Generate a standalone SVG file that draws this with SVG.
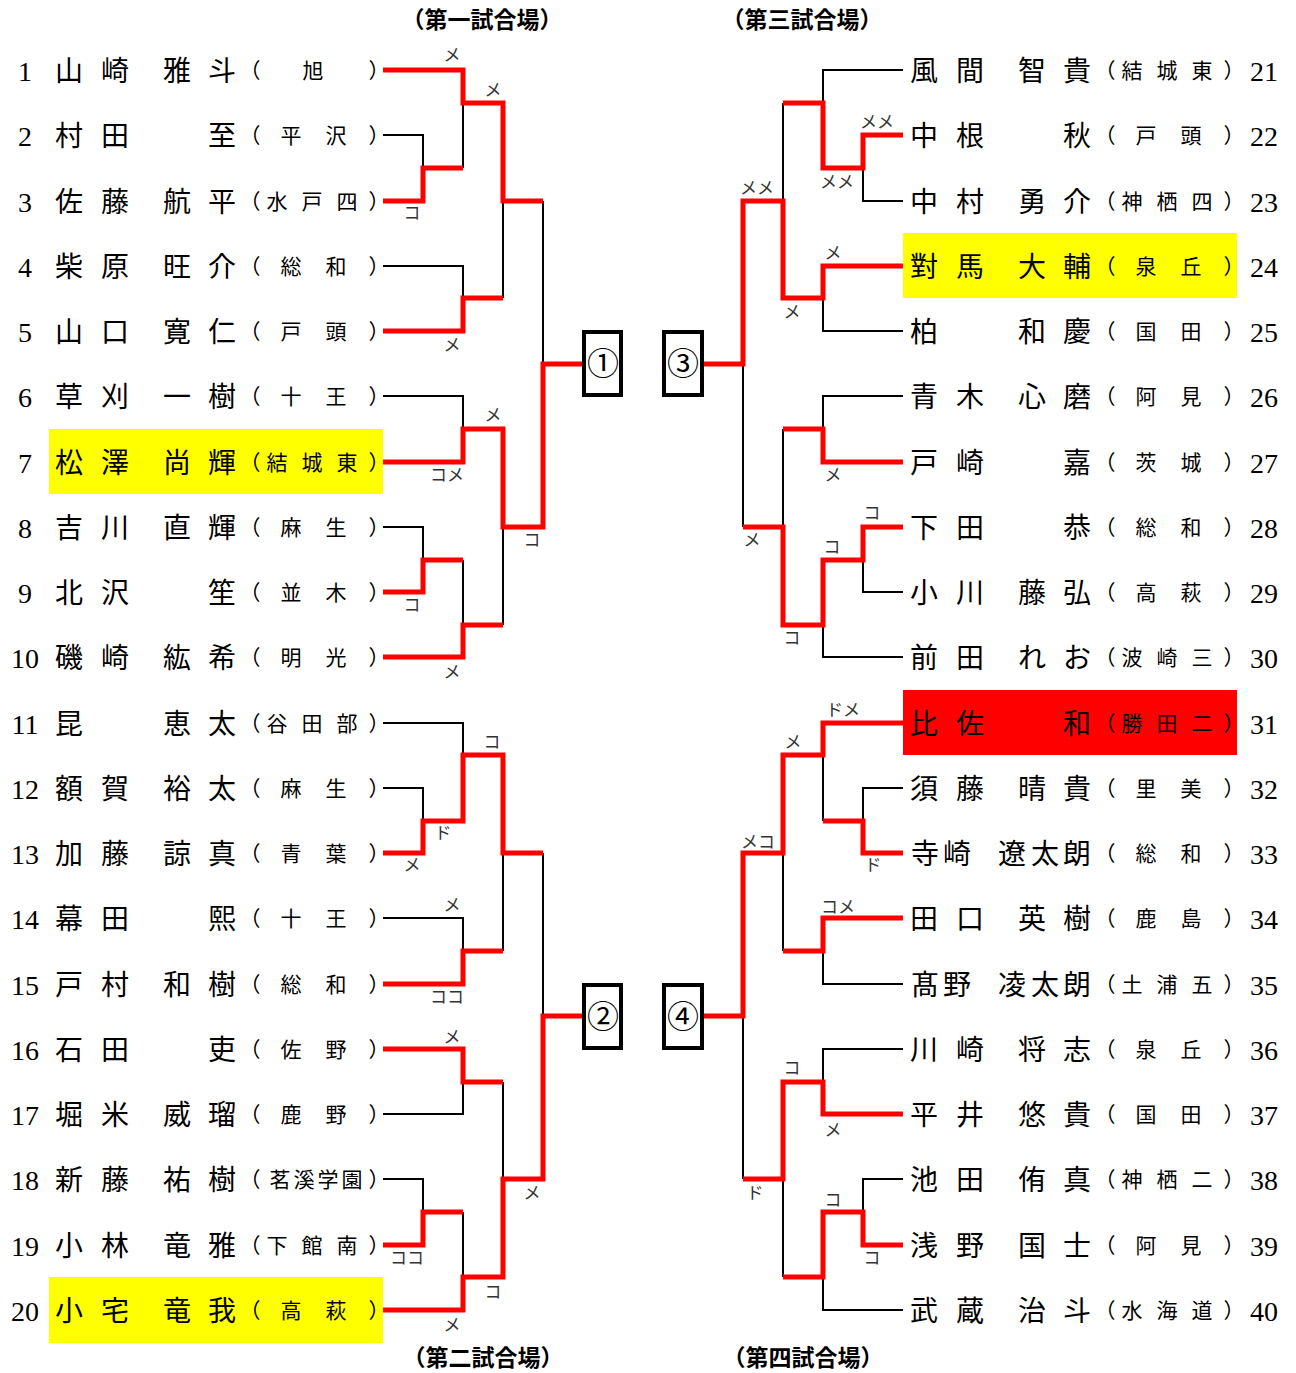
<svg xmlns="http://www.w3.org/2000/svg" width="1296" height="1373" viewBox="0 0 1296 1373">
<style>
text{font-family:"Noto Sans CJK JP","Noto Sans CJK SC",sans-serif;fill:#000}
.nm{font-size:28px;text-anchor:middle}
.sc{font-size:21px;text-anchor:middle}
.no{font-family:"Liberation Serif",serif;font-size:28px;text-anchor:middle}
.ann{font-size:17px;fill:#333;text-anchor:middle}
.hd{font-size:23px;font-weight:bold;text-anchor:middle}
.cn{font-size:32px;text-anchor:middle}
.bk{fill:none;stroke:#000;stroke-width:2}
.rd{fill:none;stroke:#f00;stroke-width:5;stroke-linejoin:miter}
.box{fill:#fff;stroke:#000;stroke-width:4}
.yl{fill:#ff0}
.rb{fill:#f00}
</style>
<rect width="1296" height="1373" fill="#fff"/>
<g id="headers">
<text class="hd" x="482" y="28">（第一試合場）</text>
<text class="hd" x="802" y="28">（第三試合場）</text>
<text class="hd" x="483" y="1366">（第二試合場）</text>
<text class="hd" x="803" y="1366">（第四試合場）</text>
</g>
<g id="highlights">
<rect class="yl" x="49" y="429" width="334" height="65"/>
<rect class="yl" x="49" y="1277" width="334" height="66"/>
<rect class="yl" x="903" y="233" width="334" height="65"/>
<rect class="rb" x="903" y="690" width="334" height="65"/>
</g>
<g id="connectors">
<path class="bk" d="M383,135H423V168 M463,168V103 M383,266H463V298 M503,298V201 M543,201V364 M383,396H463V429 M383,527H423V560 M463,560V625 M503,625V527"/>
<path class="bk" d="M383,723H463V755 M383,788H423V821 M383,918H463V951 M503,951V853 M383,1114H463V1082 M503,1082V1179 M383,1179H423V1212 M463,1212V1277 M543,853V1016"/>
<path class="bk" d="M903,70H823V103 M903,201H863V168 M783,103V201 M903,331H823V298 M903,396H823V429 M783,429V527 M903,592H863V560 M903,657H823V625 M743,527V364"/>
<path class="bk" d="M903,788H863V821 M823,821V755 M783,951V853 M903,984H823V951 M903,1049H823V1082 M903,1179H863V1212 M903,1310H823V1277 M783,1277V1179 M743,1179V1016"/>
<path class="rd" d="M383,70H463V103H503V201H543"/>
<path class="rd" d="M383,201H423V168H463"/>
<path class="rd" d="M383,331H463V298H503"/>
<path class="rd" d="M383,462H463V429H503V527H543V364H583"/>
<path class="rd" d="M383,592H423V560H463"/>
<path class="rd" d="M383,657H463V625H503"/>
<path class="rd" d="M383,853H423V821H463V755H503V853H543"/>
<path class="rd" d="M383,984H463V951H503"/>
<path class="rd" d="M383,1049H463V1082H503"/>
<path class="rd" d="M383,1245H423V1212H463"/>
<path class="rd" d="M383,1310H463V1277H503V1179H543V1016H583"/>
<path class="rd" d="M903,135H863V168H823V103H783"/>
<path class="rd" d="M903,266H823V298H783V201H743V364H703"/>
<path class="rd" d="M903,462H823V429H783"/>
<path class="rd" d="M903,527H863V560H823V625H783V527H743"/>
<path class="rd" d="M903,723H823V755H783V853H743V1016H703"/>
<path class="rd" d="M903,853H863V821H823"/>
<path class="rd" d="M903,918H823V951H783"/>
<path class="rd" d="M903,1114H823V1082H783V1179H743"/>
<path class="rd" d="M903,1245H863V1212H823V1277H783"/>
</g>
<g id="annotations">
<text class="ann" x="452" y="61">メ</text>
<text class="ann" x="493" y="96">メ</text>
<text class="ann" x="412" y="219">コ</text>
<text class="ann" x="452" y="351">メ</text>
<text class="ann" x="493" y="421">メ</text>
<text class="ann" x="447" y="481">コメ</text>
<text class="ann" x="532" y="546">コ</text>
<text class="ann" x="412" y="611">コ</text>
<text class="ann" x="452" y="678">メ</text>
<text class="ann" x="492" y="748">コ</text>
<text class="ann" x="443" y="839">ド</text>
<text class="ann" x="412" y="871">メ</text>
<text class="ann" x="452" y="911">メ</text>
<text class="ann" x="447" y="1003">ココ</text>
<text class="ann" x="452" y="1043">メ</text>
<text class="ann" x="532" y="1199">メ</text>
<text class="ann" x="407" y="1264">ココ</text>
<text class="ann" x="493" y="1298">コ</text>
<text class="ann" x="452" y="1331">メ</text>
<text class="ann" x="877" y="128">メメ</text>
<text class="ann" x="837" y="188">メメ</text>
<text class="ann" x="757" y="194">メメ</text>
<text class="ann" x="833" y="259">メ</text>
<text class="ann" x="792" y="318">メ</text>
<text class="ann" x="833" y="481">メ</text>
<text class="ann" x="752" y="546">メ</text>
<text class="ann" x="872" y="519">コ</text>
<text class="ann" x="832" y="553">コ</text>
<text class="ann" x="792" y="644">コ</text>
<text class="ann" x="843" y="716">ドメ</text>
<text class="ann" x="793" y="748">メ</text>
<text class="ann" x="758" y="848">メコ</text>
<text class="ann" x="873" y="871">ド</text>
<text class="ann" x="838" y="913">コメ</text>
<text class="ann" x="792" y="1074">コ</text>
<text class="ann" x="833" y="1136">メ</text>
<text class="ann" x="755" y="1199">ド</text>
<text class="ann" x="833" y="1206">コ</text>
<text class="ann" x="872" y="1264">コ</text>
</g>
<g id="final1"><rect class="box" x="584" y="332" width="37" height="63"/><text class="cn" x="603" y="375">①</text></g>
<g id="final3"><rect class="box" x="664" y="332" width="38" height="63"/><text class="cn" x="683" y="375">③</text></g>
<g id="final2"><rect class="box" x="584" y="985" width="37" height="63"/><text class="cn" x="603" y="1028">②</text></g>
<g id="final4"><rect class="box" x="664" y="985" width="38" height="63"/><text class="cn" x="683" y="1028">④</text></g>
<g id="p1"><text class="no" x="25" y="81">1</text><text class="nm" x="69 115 177 222" y="81">山崎雅斗</text><text class="sc" x="250 313 379" y="78">（旭）</text></g>
<g id="p2"><text class="no" x="25" y="146">2</text><text class="nm" x="69 115 222" y="146">村田至</text><text class="sc" x="250 291 336 379" y="143">（平沢）</text></g>
<g id="p3"><text class="no" x="25" y="212">3</text><text class="nm" x="69 115 177 222" y="212">佐藤航平</text><text class="sc" x="250 277 312 347 379" y="209">（水戸四）</text></g>
<g id="p4"><text class="no" x="25" y="277">4</text><text class="nm" x="69 115 177 222" y="277">柴原旺介</text><text class="sc" x="250 291 336 379" y="274">（総和）</text></g>
<g id="p5"><text class="no" x="25" y="342">5</text><text class="nm" x="69 115 177 222" y="342">山口寛仁</text><text class="sc" x="250 291 336 379" y="339">（戸頭）</text></g>
<g id="p6"><text class="no" x="25" y="407">6</text><text class="nm" x="69 115 177 222" y="407">草刈一樹</text><text class="sc" x="250 291 336 379" y="404">（十王）</text></g>
<g id="p7"><text class="no" x="25" y="473">7</text><text class="nm" x="69 115 177 222" y="473">松澤尚輝</text><text class="sc" x="250 277 312 347 379" y="470">（結城東）</text></g>
<g id="p8"><text class="no" x="25" y="538">8</text><text class="nm" x="69 115 177 222" y="538">吉川直輝</text><text class="sc" x="250 291 336 379" y="535">（麻生）</text></g>
<g id="p9"><text class="no" x="25" y="603">9</text><text class="nm" x="69 115 222" y="603">北沢笙</text><text class="sc" x="250 291 336 379" y="600">（並木）</text></g>
<g id="p10"><text class="no" x="25" y="668">10</text><text class="nm" x="69 115 177 222" y="668">磯崎紘希</text><text class="sc" x="250 291 336 379" y="665">（明光）</text></g>
<g id="p11"><text class="no" x="25" y="734">11</text><text class="nm" x="69 177 222" y="734">昆恵太</text><text class="sc" x="250 277 312 347 379" y="731">（谷田部）</text></g>
<g id="p12"><text class="no" x="25" y="799">12</text><text class="nm" x="69 115 177 222" y="799">額賀裕太</text><text class="sc" x="250 291 336 379" y="796">（麻生）</text></g>
<g id="p13"><text class="no" x="25" y="864">13</text><text class="nm" x="69 115 177 222" y="864">加藤諒真</text><text class="sc" x="250 291 336 379" y="861">（青葉）</text></g>
<g id="p14"><text class="no" x="25" y="929">14</text><text class="nm" x="69 115 222" y="929">幕田熙</text><text class="sc" x="250 291 336 379" y="926">（十王）</text></g>
<g id="p15"><text class="no" x="25" y="995">15</text><text class="nm" x="69 115 177 222" y="995">戸村和樹</text><text class="sc" x="250 291 336 379" y="992">（総和）</text></g>
<g id="p16"><text class="no" x="25" y="1060">16</text><text class="nm" x="69 115 222" y="1060">石田吏</text><text class="sc" x="250 291 336 379" y="1057">（佐野）</text></g>
<g id="p17"><text class="no" x="25" y="1125">17</text><text class="nm" x="69 115 177 222" y="1125">堀米威瑠</text><text class="sc" x="250 291 336 379" y="1122">（鹿野）</text></g>
<g id="p18"><text class="no" x="25" y="1190">18</text><text class="nm" x="69 115 177 222" y="1190">新藤祐樹</text><text class="sc" x="250 280 304 328 352 379" y="1187">（茗溪学園）</text></g>
<g id="p19"><text class="no" x="25" y="1256">19</text><text class="nm" x="69 115 177 222" y="1256">小林竜雅</text><text class="sc" x="250 277 312 347 379" y="1253">（下館南）</text></g>
<g id="p20"><text class="no" x="25" y="1321">20</text><text class="nm" x="69 115 177 222" y="1321">小宅竜我</text><text class="sc" x="250 291 336 379" y="1318">（高萩）</text></g>
<g id="p21"><text class="no" x="1264" y="81">21</text><text class="nm" x="924 970 1032 1077" y="81">風間智貴</text><text class="sc" x="1105 1132 1167 1202 1234" y="78">（結城東）</text></g>
<g id="p22"><text class="no" x="1264" y="146">22</text><text class="nm" x="924 970 1077" y="146">中根秋</text><text class="sc" x="1105 1146 1191 1234" y="143">（戸頭）</text></g>
<g id="p23"><text class="no" x="1264" y="212">23</text><text class="nm" x="924 970 1032 1077" y="212">中村勇介</text><text class="sc" x="1105 1132 1167 1202 1234" y="209">（神栖四）</text></g>
<g id="p24"><text class="no" x="1264" y="277">24</text><text class="nm" x="924 970 1032 1077" y="277">對馬大輔</text><text class="sc" x="1105 1146 1191 1234" y="274">（泉丘）</text></g>
<g id="p25"><text class="no" x="1264" y="342">25</text><text class="nm" x="924 1032 1077" y="342">柏和慶</text><text class="sc" x="1105 1146 1191 1234" y="339">（国田）</text></g>
<g id="p26"><text class="no" x="1264" y="407">26</text><text class="nm" x="924 970 1032 1077" y="407">青木心磨</text><text class="sc" x="1105 1146 1191 1234" y="404">（阿見）</text></g>
<g id="p27"><text class="no" x="1264" y="473">27</text><text class="nm" x="924 970 1077" y="473">戸崎嘉</text><text class="sc" x="1105 1146 1191 1234" y="470">（茨城）</text></g>
<g id="p28"><text class="no" x="1264" y="538">28</text><text class="nm" x="924 970 1077" y="538">下田恭</text><text class="sc" x="1105 1146 1191 1234" y="535">（総和）</text></g>
<g id="p29"><text class="no" x="1264" y="603">29</text><text class="nm" x="924 970 1032 1077" y="603">小川藤弘</text><text class="sc" x="1105 1146 1191 1234" y="600">（高萩）</text></g>
<g id="p30"><text class="no" x="1264" y="668">30</text><text class="nm" x="924 970 1032 1077" y="668">前田れお</text><text class="sc" x="1105 1132 1167 1202 1234" y="665">（波崎三）</text></g>
<g id="p31"><text class="no" x="1264" y="734">31</text><text class="nm" x="924 970 1077" y="734">比佐和</text><text class="sc" x="1105 1132 1167 1202 1234" y="731">（勝田二）</text></g>
<g id="p32"><text class="no" x="1264" y="799">32</text><text class="nm" x="924 970 1032 1077" y="799">須藤晴貴</text><text class="sc" x="1105 1146 1191 1234" y="796">（里美）</text></g>
<g id="p33"><text class="no" x="1264" y="864">33</text><text class="nm" x="925 957 1012 1045 1077" y="864">寺崎遼太朗</text><text class="sc" x="1105 1146 1191 1234" y="861">（総和）</text></g>
<g id="p34"><text class="no" x="1264" y="929">34</text><text class="nm" x="924 970 1032 1077" y="929">田口英樹</text><text class="sc" x="1105 1146 1191 1234" y="926">（鹿島）</text></g>
<g id="p35"><text class="no" x="1264" y="995">35</text><text class="nm" x="925 957 1012 1045 1077" y="995">髙野凌太朗</text><text class="sc" x="1105 1132 1167 1202 1234" y="992">（土浦五）</text></g>
<g id="p36"><text class="no" x="1264" y="1060">36</text><text class="nm" x="924 970 1032 1077" y="1060">川崎将志</text><text class="sc" x="1105 1146 1191 1234" y="1057">（泉丘）</text></g>
<g id="p37"><text class="no" x="1264" y="1125">37</text><text class="nm" x="924 970 1032 1077" y="1125">平井悠貴</text><text class="sc" x="1105 1146 1191 1234" y="1122">（国田）</text></g>
<g id="p38"><text class="no" x="1264" y="1190">38</text><text class="nm" x="924 970 1032 1077" y="1190">池田侑真</text><text class="sc" x="1105 1132 1167 1202 1234" y="1187">（神栖二）</text></g>
<g id="p39"><text class="no" x="1264" y="1256">39</text><text class="nm" x="924 970 1032 1077" y="1256">浅野国士</text><text class="sc" x="1105 1146 1191 1234" y="1253">（阿見）</text></g>
<g id="p40"><text class="no" x="1264" y="1321">40</text><text class="nm" x="924 970 1032 1077" y="1321">武蔵治斗</text><text class="sc" x="1105 1132 1167 1202 1234" y="1318">（水海道）</text></g>
</svg>
